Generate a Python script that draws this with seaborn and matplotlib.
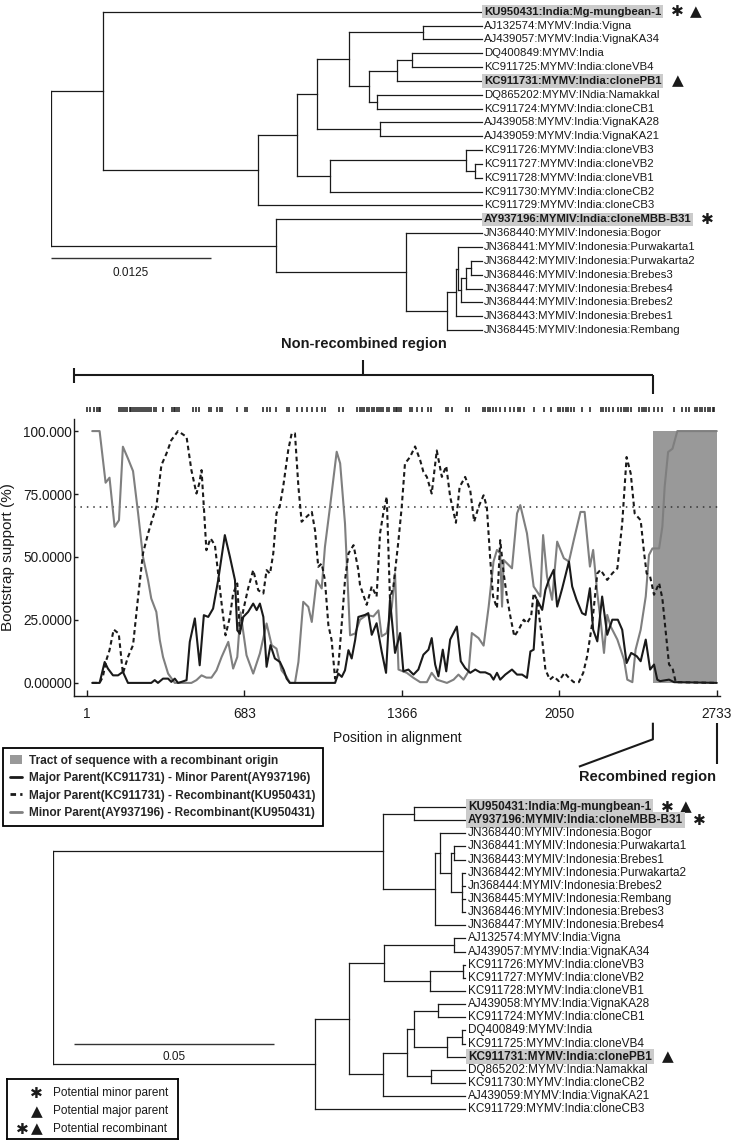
import pandas as pd
import matplotlib
matplotlib.use('Agg')
import matplotlib.pyplot as plt
from matplotlib.collections import LineCollection
from matplotlib.lines import Line2D
from matplotlib.patches import Patch
import seaborn as sns

sns.set_style('ticks')
plt.rcParams['font.family'] = ['Liberation Sans', 'DejaVu Sans']

W, H = 734, 1142
INK = '#1a1a1a'
GREY_LINE = '#7f7f7f'
TRACT = '#999999'
BOX = '#cbcbcb'

# ---------------- bootscan data ----------------
tract_start, tract_end = 2455, 2733
cutoff = 70
xticks = [1, 683, 1366, 2050, 2733]
yticks = [0, 25, 50, 75, 100]
ytick_labels = ['0.00000', '25.0000', '50.0000', '75.0000', '100.000']

minor_rec_pos = [24, 56, 82, 99, 121, 140, 157, 179, 201, 223,
                 244, 266, 280, 302, 317, 331, 353, 382, 454, 476,
                 498, 519, 541, 563, 585, 614, 635, 653, 667, 693,
                 722, 751, 780, 802, 823, 845, 867, 881, 903, 918,
                 939, 961, 976, 997, 1019, 1033, 1055, 1084, 1099, 1120,
                 1142, 1164, 1185, 1214, 1243, 1265, 1279, 1301, 1323, 1337,
                 1352, 1388, 1417, 1446, 1475, 1496, 1518, 1562, 1591, 1612,
                 1634, 1656, 1670, 1699, 1721, 1743, 1764, 1779, 1793, 1801,
                 1808, 1844, 1866, 1880, 1909, 1938, 1967, 1979, 1996, 2018,
                 2040, 2069, 2091, 2112, 2141, 2159, 2182, 2196, 2214, 2228,
                 2243, 2257, 2272, 2301, 2330, 2344, 2366, 2380, 2402, 2424,
                 2438, 2453, 2482, 2496, 2506, 2521, 2540, 2561, 2732]
minor_rec_val = [100, 100, 79.5, 81.5, 62, 64.6, 93.8, 89.1, 84.1, 67.3,
                 50.1, 40.8, 33.5, 28.2, 17, 10.3, 3.7, 0, 0, 1.1,
                 3, 2.1, 2.1, 5, 10.3, 16.3, 5.7, 10.3, 28, 11,
                 3.7, 11.7, 23.6, 15, 13.6, 5, 2.4, 0, 0, 8.3,
                 32.2, 30.2, 24.2, 40.8, 37.5, 54, 69.9, 91.8, 87.2, 63.3,
                 18.9, 19.6, 25.1, 27, 26.4, 28.8, 18.5, 19.8, 30.3, 43.5,
                 5.3, 4, 2, 0.3, 0.3, 4, 1.3, 0, 1.3, 3.3,
                 1.3, 4.6, 19.8, 17.8, 14.8, 30.3, 48.2, 52.8, 51.5, 30.3,
                 48.8, 45.5, 67.3, 70.6, 59.4, 38.3, 34.3, 58.7, 42.2, 33,
                 56.1, 49.5, 48.2, 56.7, 67.9, 67.9, 46.2, 52.8, 35.6, 25.1,
                 11.9, 27, 22.4, 17.2, 9.2, 1.3, 0.3, 13.2, 21.1, 34.3,
                 50.8, 53.4, 53.4, 62, 77.8, 91.7, 93, 100, 100]

major_rec_pos = [24, 56, 70, 85, 99, 117, 139, 157, 179, 201,
                 223, 244, 266, 288, 302, 324, 346, 367, 396, 433,
                 454, 476, 488, 498, 508, 519, 537, 556, 570, 585,
                 602, 621, 635, 653, 664, 679, 700, 722, 744, 766,
                 780, 795, 809, 823, 838, 852, 874, 889, 903, 918,
                 932, 954, 976, 990, 1004, 1019, 1033, 1048, 1062, 1077,
                 1091, 1106, 1120, 1135, 1157, 1178, 1185, 1214, 1236, 1257,
                 1272, 1286, 1301, 1315, 1330, 1352, 1366, 1380, 1402, 1424,
                 1446, 1460, 1475, 1496, 1518, 1540, 1559, 1576, 1601, 1617,
                 1641, 1663, 1680, 1699, 1721, 1735, 1750, 1762, 1779, 1793,
                 1808, 1822, 1837, 1854, 1873, 1895, 1909, 1927, 1938, 1953,
                 1975, 1989, 2008, 2025, 2047, 2072, 2091, 2112, 2134, 2153,
                 2170, 2192, 2214, 2228, 2257, 2279, 2301, 2322, 2341, 2359,
                 2376, 2402, 2417, 2428, 2443, 2460, 2482, 2496, 2511, 2525,
                 2540, 2554, 2732]
major_rec_val = [0, 0, 2.4, 9, 13, 21.2, 19.6, 3.7, 10.3, 15,
                 34.2, 51.4, 59.3, 66, 69.9, 86.5, 91.1, 96.4, 100, 97.7,
                 84.5, 75.2, 79.2, 84.5, 69.9, 52.7, 57.4, 54.7, 43.4, 31.5,
                 18.9, 26.2, 35.5, 39.5, 19.6, 28.9, 37.5, 44.8, 36.8, 35.5,
                 44.8, 43.4, 51.4, 67.3, 70.6, 77.9, 92.5, 99.1, 99.1, 77.9,
                 64, 66, 67.9, 60.7, 46.1, 47.4, 40.8, 22.9, 17, 1.7,
                 6.4, 23.6, 40.8, 51.4, 54.7, 44.8, 38.9, 31, 38.3, 34.3,
                 59.4, 67.3, 73.9, 33.6, 38.3, 56.7, 69.9, 87.1, 89.7, 93.9,
                 88.4, 83.8, 81.8, 75.2, 92.3, 81.8, 86.1, 73.9, 63.6, 77.8,
                 81.8, 76.5, 64, 69.9, 74.5, 69.9, 48.8, 34.3, 29.7, 56.7,
                 43.5, 34.3, 26.4, 18.5, 21.1, 25.1, 23.7, 26.4, 35.6, 33,
                 17.2, 5.3, 1.3, 2.6, 0.7, 4, 2, 0.3, 0.3, 4,
                 10.6, 23.7, 43.5, 44.9, 40.9, 43.5, 45.5, 63.3, 89.7, 83.1,
                 67.3, 64.6, 51.5, 43.5, 42.2, 35, 39.6, 33.6, 19.8, 7.3,
                 5.9, 0.3, 0]

major_minor_pos = [24, 56, 78, 92, 114, 136, 157, 179, 280, 295,
                   309, 331, 353, 367, 382, 396, 411, 433, 447, 469,
                   490, 508, 527, 548, 570, 599, 621, 643, 653, 664,
                   679, 700, 722, 737, 751, 766, 780, 797, 816, 838,
                   855, 867, 881, 1077, 1091, 1106, 1120, 1135, 1149, 1164,
                   1178, 1207, 1221, 1236, 1257, 1279, 1298, 1315, 1337, 1359,
                   1373, 1395, 1417, 1438, 1460, 1482, 1496, 1511, 1525, 1544,
                   1559, 1576, 1605, 1622, 1641, 1663, 1685, 1706, 1728, 1750,
                   1764, 1779, 1793, 1815, 1844, 1866, 1888, 1909, 1924, 1938,
                   1953, 1975, 1989, 2004, 2025, 2040, 2062, 2091, 2105, 2124,
                   2148, 2163, 2182, 2196, 2214, 2235, 2257, 2279, 2303, 2322,
                   2341, 2361, 2385, 2402, 2424, 2443, 2460, 2474, 2486, 2525,
                   2547, 2732]
major_minor_val = [0, 0, 8.3, 5.7, 3, 3, 4.4, 0, 0, 1.1,
                   0, 1.7, 1.7, 0.4, 1.7, 0, 0.4, 1.1, 16.3, 25.6,
                   7, 26.9, 26.2, 29.5, 40.8, 58.7, 50.1, 40.8, 20.9, 19.6,
                   26.2, 28.2, 31.5, 28.9, 31.5, 26.2, 6.4, 15, 9.7, 8.3,
                   5, 1.7, 0, 0, 3.7, 2.4, 5, 13, 9.7, 17,
                   26.2, 27, 27.7, 19.1, 23.7, 12.5, 4, 33, 11.9, 19.8,
                   4.6, 5.3, 3.3, 5.3, 11.2, 13.2, 17.8, 7.3, 2.6, 13.2,
                   4.6, 17.2, 22.4, 8.6, 5.9, 4, 5.3, 4.2, 4.2, 3.3,
                   1.3, 4, 1.3, 3.3, 5.3, 3.3, 3.3, 2, 12.5, 13.2,
                   33, 29, 36.9, 40.9, 44.9, 30.3, 37.6, 48.2, 38.3, 33,
                   27.7, 27, 37.6, 21.1, 16.5, 34.3, 19.1, 25.1, 25.1, 21.1,
                   7.9, 11.9, 10.6, 8.6, 17.2, 5.3, 7.3, 1.3, 0.7, 1.3,
                   0.3, 0]

informative_sites = [2, 15, 30, 44, 52, 56, 140, 150, 157, 168, 176, 186, 194, 201, 208,
                     218, 227, 237, 244, 253, 262, 269, 280, 291, 302, 331, 370, 378, 385,
                     392, 399, 461, 476, 488, 531, 541, 566, 577, 585, 653, 686, 693, 766,
                     780, 796, 821, 867, 878, 910, 932, 954, 976, 997, 1019, 1033, 1096,
                     1110, 1171, 1183, 1193, 1203, 1214, 1226, 1236, 1246, 1258, 1268,
                     1275, 1286, 1301, 1312, 1333, 1340, 1347, 1356, 1363, 1402, 1412,
                     1434, 1456, 1479, 1492, 1557, 1566, 1583, 1646, 1657, 1717, 1727,
                     1738, 1750, 1762, 1773, 1793, 1815, 1837, 1854, 1869, 1877, 1898,
                     1938, 1982, 2014, 2043, 2054, 2066, 2077, 2086, 2100, 2115, 2148,
                     2184, 2230, 2239, 2253, 2264, 2281, 2303, 2317, 2329, 2339, 2348,
                     2358, 2396, 2406, 2417, 2427, 2438, 2460, 2477, 2496, 2547, 2583,
                     2598, 2613, 2637, 2648, 2660, 2670, 2682, 2692, 2704, 2714, 2721]

pairs = ['Minor Parent(AY937196) - Recombinant(KU950431)',
         'Major Parent(KC911731) - Recombinant(KU950431)',
         'Major Parent(KC911731) - Minor Parent(AY937196)']

# ---------------- tree data ----------------
top_leaves = ['KU950431:India:Mg-mungbean-1', 'AJ132574:MYMV:India:Vigna',
              'AJ439057:MYMV:India:VignaKA34', 'DQ400849:MYMV:India',
              'KC911725:MYMV:India:cloneVB4', 'KC911731:MYMV:India:clonePB1',
              'DQ865202:MYMV:INdia:Namakkal', 'KC911724:MYMV:India:cloneCB1',
              'AJ439058:MYMV:India:VignaKA28', 'AJ439059:MYMV:India:VignaKA21',
              'KC911726:MYMV:India:cloneVB3', 'KC911727:MYMV:India:cloneVB2',
              'KC911728:MYMV:India:cloneVB1', 'KC911730:MYMV:India:cloneCB2',
              'KC911729:MYMV:India:cloneCB3', 'AY937196:MYMIV:India:cloneMBB-B31',
              'JN368440:MYMIV:Indonesia:Bogor', 'JN368441:MYMIV:Indonesia:Purwakarta1',
              'JN368442:MYMIV:Indonesia:Purwakarta2', 'JN368446:MYMIV:Indonesia:Brebes3',
              'JN368447:MYMIV:Indonesia:Brebes4', 'JN368444:MYMIV:Indonesia:Brebes2',
              'JN368443:MYMIV:Indonesia:Brebes1', 'JN368445:MYMIV:Indonesia:Rembang']
# (node, depth, children) - ints are leaf rows
top_nodes = [('root', 0.0, ['A', 'B']),
             ('A', 0.00406, [0, 'C']),
             ('C', 0.01615, ['D', 14]),
             ('D', 0.01924, ['E', 'F']),
             ('E', 0.02076, ['I', 'J']),
             ('I', 0.02331, ['K', 'L']),
             ('K', 0.02909, [1, 2]),
             ('L', 0.02484, ['M', 'N']),
             ('M', 0.02701, ['O', 5]),
             ('O', 0.02818, [3, 4]),
             ('N', 0.02549, [6, 7]),
             ('J', 0.02570, [8, 9]),
             ('F', 0.02180, ['G', 13]),
             ('G', 0.03240, [10, 'H']),
             ('H', 0.03313, [11, 12]),
             ('B', 0.01760, [15, 'P']),
             ('P', 0.02771, [16, 'Q']),
             ('Q', 0.03091, ['R', 23]),
             ('R', 0.03164, ['S', 22]),
             ('S', 0.03177, [17, 'T']),
             ('T', 0.03203, ['U', 21]),
             ('U', 0.03240, ['V', 20]),
             ('V', 0.03279, [18, 19])]
top_tip = 0.03367
top_scale = 0.0125
top_marks = {0: '*^', 5: '^', 15: '*'}

bot_leaves = ['KU950431:India:Mg-mungbean-1', 'AY937196:MYMIV:India:cloneMBB-B31',
              'JN368440:MYMIV:Indonesia:Bogor', 'JN368441:MYMIV:Indonesia:Purwakarta1',
              'JN368443:MYMIV:Indonesia:Brebes1', 'JN368442:MYMIV:Indonesia:Purwakarta2',
              'Jn368444:MYMIV:Indonesia:Brebes2', 'JN368445:MYMIV:Indonesia:Rembang',
              'JN368446:MYMIV:Indonesia:Brebes3', 'JN368447:MYMIV:Indonesia:Brebes4',
              'AJ132574:MYMV:India:Vigna', 'AJ439057:MYMV:India:VignaKA34',
              'KC911726:MYMV:India:cloneVB3', 'KC911727:MYMV:India:cloneVB2',
              'KC911728:MYMV:India:cloneVB1', 'AJ439058:MYMV:India:VignaKA28',
              'KC911724:MYMV:India:cloneCB1', 'DQ400849:MYMV:India',
              'KC911725:MYMV:India:cloneVB4', 'KC911731:MYMV:India:clonePB1',
              'DQ865202:MYMV:India:Namakkal', 'KC911730:MYMV:India:cloneCB2',
              'AJ439059:MYMV:India:VignaKA21', 'KC911729:MYMV:India:cloneCB3']
bot_nodes = [('root', 0.0, ['X1', 'X2']),
             ('X1', 0.08265, ['Y1', 'Y2']),
             ('Y1', 0.0904, [0, 1]),
             ('Y2', 0.09558, ['Y3', 9]),
             ('Y3', 0.09683, [2, 'Y4']),
             ('Y4', 0.09958, ['Y5', 'Y6']),
             ('Y5', 0.1004, [3, 4]),
             ('Y6', 0.1024, [5, 6, 7, 8]),
             ('X2', 0.06558, ['Z1', 23]),
             ('Z1', 0.07415, ['Z2', 'Z3']),
             ('Z2', 0.0829, ['Z4', 'Z5']),
             ('Z4', 0.1004, [10, 11]),
             ('Z5', 0.09433, ['Z6', 14]),
             ('Z6', 0.1025, [12, 13]),
             ('Z3', 0.0825, ['Z7', 22]),
             ('Z7', 0.08865, ['Z8', 'Z12']),
             ('Z8', 0.0904, ['Z9', 'Z10']),
             ('Z9', 0.0964, [15, 16]),
             ('Z10', 0.0985, ['Z11', 19]),
             ('Z11', 0.1024, [17, 18]),
             ('Z12', 0.0945, [20, 21])]
bot_tip = 0.1031
bot_scale = 0.05
bot_marks = {0: '*^', 1: '*', 19: '^'}

legend_symbols = ['*', '^', '*^']
legend_texts = ['Potential minor parent', 'Potential major parent', 'Potential recombinant']


def px_rect(x0, y0, x1, y1):
    return [x0 / W, 1 - y1 / H, (x1 - x0) / W, (y1 - y0) / H]


def symbol(ax, s, xy, xycoords, dx):
    glyph, size = ('\u2731', 11) if s == '*' else ('\u25B2', 11)
    ax.annotate(glyph, xy=xy, xycoords=xycoords, xytext=(dx, 0), textcoords='offset pixels',
                ha='center', va='center', fontsize=size, color=INK, family='DejaVu Sans')


def draw_tree(ax, leaves, nodes, tip, marks, fs, gap):
    kids = {n: c for n, d, c in nodes}
    depth = {n: d for n, d, c in nodes}

    def ypos(n):
        if isinstance(n, int):
            return n
        return (ypos(kids[n][0]) + ypos(kids[n][-1])) / 2

    segs = []
    for n, d, c in nodes:
        ys = [ypos(k) for k in c]
        segs.append([(d, min(ys)), (d, max(ys))])
        for k, yk in zip(c, ys):
            segs.append([(d, yk), (tip if isinstance(k, int) else depth[k], yk)])
    ax.add_collection(LineCollection(segs, colors=INK, linewidths=0.9, capstyle='projecting'))
    for i, name in enumerate(leaves):
        hl = i in marks
        t = ax.annotate(name, (tip, i), xytext=(gap, 0), textcoords='offset pixels',
                        ha='left', va='center', fontsize=fs, color=INK,
                        fontweight='bold' if hl else 'normal',
                        bbox=dict(boxstyle='square,pad=0.15', fc=BOX, ec='none') if hl else None)
        for j, s in enumerate(marks.get(i, '')):
            symbol(ax, s, (1, 0.5), t, 16 + 18 * j)
    ax.axis('off')


fig = plt.figure(figsize=(W / 100, H / 100), dpi=100)

# ---------------- top tree ----------------
ax_top = fig.add_axes(px_rect(51, 0, 734, 345))
draw_tree(ax_top, top_leaves, top_nodes, top_tip, top_marks, 8.2, 2)
ax_top.set_xlim(0, 683 * top_scale / 160)
ax_top.set_ylim(24.08, -0.845)
ax_top.plot([0, top_scale], [17.8, 17.8], color='#333333', lw=1.0, solid_capstyle='butt')
ax_top.text(top_scale / 2, 18.85, str(top_scale), ha='center', va='center', fontsize=8.5, color=INK)

# ---------------- bootscan ----------------
frames = [pd.DataFrame({'Position': minor_rec_pos, 'Support': minor_rec_val, 'Pair': pairs[0]}),
          pd.DataFrame({'Position': major_rec_pos, 'Support': major_rec_val, 'Pair': pairs[1]}),
          pd.DataFrame({'Position': major_minor_pos, 'Support': major_minor_val, 'Pair': pairs[2]})]
boot = pd.concat(frames, ignore_index=True)

ax = fig.add_axes(px_rect(74, 419, 720, 696))
ax.fill_between([tract_start, tract_end], 0, 100, color=TRACT, lw=0, zorder=0.5)
palette = {pairs[0]: GREY_LINE, pairs[1]: INK, pairs[2]: INK}
dashes = {pairs[0]: '', pairs[1]: (2.2, 1.6), pairs[2]: ''}
sns.lineplot(data=boot, x='Position', y='Support', hue='Pair', style='Pair', hue_order=pairs,
             style_order=pairs, palette=palette, dashes=dashes, estimator=None, sort=False,
             linewidth=1.5, legend=False, ax=ax)
ax.axhline(cutoff, color='#333333', lw=1.1, ls=(0, (1, 3.2)), zorder=1)
ax.set_xlim(-55, 2746)
ax.set_ylim(-5.2, 104.8)
ax.set_xticks(xticks)
ax.set_xticklabels([str(v) for v in xticks])
ax.set_yticks(yticks)
ax.set_yticklabels(ytick_labels)
ax.tick_params(axis='x', direction='in', length=4.5, width=1, pad=8, labelsize=9.8, colors=INK)
ax.tick_params(axis='y', direction='in', length=3, width=1, pad=1.5, labelsize=9.8, colors=INK)
ax.set_xlabel('Position in alignment', fontsize=10, labelpad=7, color=INK)
ax.set_ylabel('Bootstrap support (%)', fontsize=11, labelpad=6, color=INK)
sns.despine(ax=ax)
for sp in ('left', 'bottom'):
    ax.spines[sp].set_linewidth(1.0)
    ax.spines[sp].set_color(INK)

xa = ax.get_xaxis_transform()
ax.vlines(informative_sites, 1.0242, 1.0433, transform=xa, clip_on=False, color=INK, lw=1.1)

x0 = ax.get_xlim()[0]
mid = (x0 + tract_start) / 2
bk = dict(transform=xa, clip_on=False, color=INK, lw=1.5, solid_capstyle='butt')
ax.plot([x0, tract_start], [1.1588, 1.1588], **bk)
ax.plot([x0, x0], [1.184, 1.130], **bk)
ax.plot([mid, mid], [1.213, 1.1588], **bk)
ax.plot([tract_start, tract_start], [1.1588, 1.090], **bk)
ax.text(mid, 1.271, 'Non-recombined region', transform=xa, ha='center', va='center',
        fontsize=10.5, fontweight='bold', color=INK)

units_px = (ax.get_xlim()[1] - ax.get_xlim()[0]) / 646
diag_end = tract_start - 74 * units_px
ax.plot([tract_start, tract_start, diag_end], [-0.0964, -0.1563, -0.2552], **bk)
ax.plot([tract_end, tract_end], [-0.0964, -0.2455], **bk)
ax.text((diag_end + tract_end) / 2, -0.2913, 'Recombined region', transform=xa, ha='center',
        va='center', fontsize=10.5, fontweight='bold', color=INK)

handles = [Patch(facecolor=TRACT, edgecolor='none'),
           Line2D([], [], color=INK, lw=2),
           Line2D([], [], color=INK, lw=2, ls=(0, (2, 1.5))),
           Line2D([], [], color=GREY_LINE, lw=2)]
labels = ['Tract of sequence with a recombinant origin', pairs[2], pairs[1], pairs[0]]
leg = fig.legend(handles, labels, loc='upper left', bbox_to_anchor=(2.7 / W, 1 - 747.7 / H),
                 frameon=True, fancybox=False, edgecolor='black', framealpha=1,
                 borderaxespad=0, prop={'weight': 'bold', 'size': 8.6}, handlelength=1.0,
                 handleheight=0.8, handletextpad=0.6, labelspacing=0.45, borderpad=0.6)
leg.get_frame().set_linewidth(1.3)

# ---------------- bottom tree ----------------
ax_bot = fig.add_axes(px_rect(52.7, 790, 734, 1142))
draw_tree(ax_bot, bot_leaves, bot_nodes, bot_tip, bot_marks, 8.5, 3)
ax_bot.set_xlim(0, 681.3 * bot_scale / 200)
ax_bot.set_ylim(25.49, -1.294)
sb0 = 0.0053
ax_bot.plot([sb0, sb0 + bot_scale], [18.06, 18.06], color='#333333', lw=1.0, solid_capstyle='butt')
ax_bot.text(sb0 + bot_scale / 2, 19.05, str(bot_scale), ha='center', va='center', fontsize=8.5, color=INK)

# ---------------- symbol legend ----------------
lg = fig.add_axes(px_rect(7.3, 1079, 177.7, 1139.3))
lg.set_xlim(7.3, 177.7)
lg.set_ylim(1139.3, 1079)
lg.set_xticks([])
lg.set_yticks([])
for sp in lg.spines.values():
    sp.set_linewidth(1.3)
    sp.set_color('black')
for k, (s, txt) in enumerate(zip(legend_symbols, legend_texts)):
    y = 1093.3 + k * 17.9
    for j, ch in enumerate(reversed(s)):
        symbol(lg, ch, (36.7 - 14 * j, y), 'data', 0)
    lg.text(53.3, y, txt, ha='left', va='center', fontsize=8.5, color=INK)

fig.savefig('out.png', dpi=100)
